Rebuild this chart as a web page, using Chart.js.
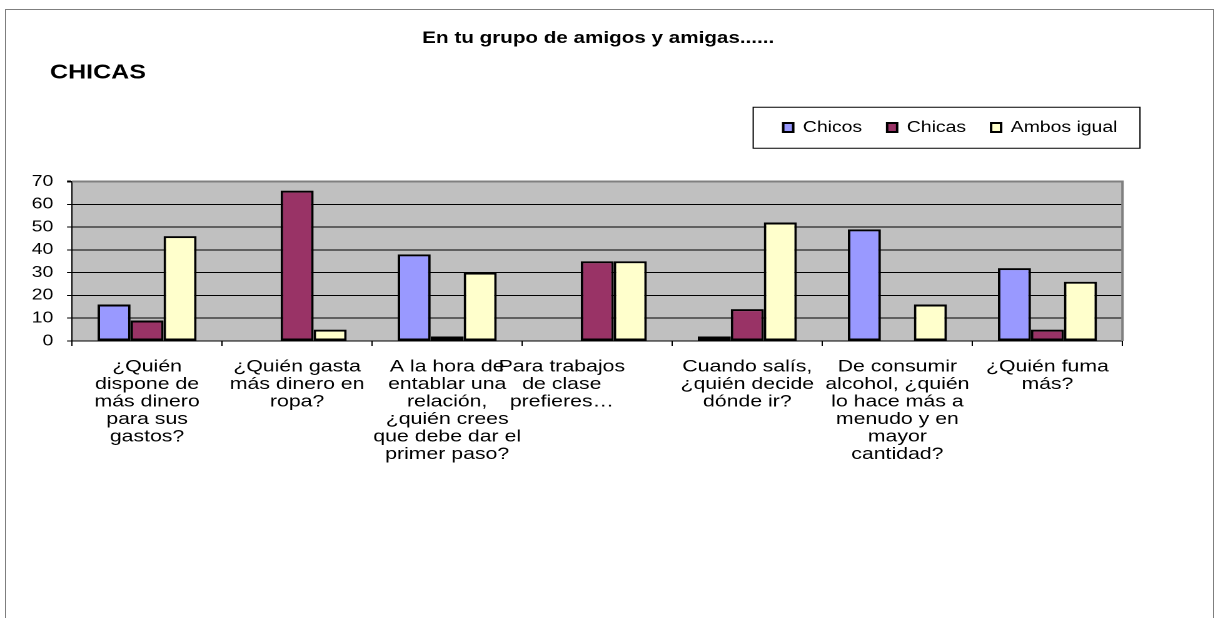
<!DOCTYPE html>
<html>
<head>
<meta charset="utf-8">
<script src="https://cdn.jsdelivr.net/npm/chart.js@4.4.1/dist/chart.umd.min.js"></script>
<style>
    html, body { margin: 0; padding: 0; background: #fff; }
    #frame { position: absolute; left: 5px; top: 9px; width: 1207px; height: 640px; border: 1px solid #7f7f7f; }
    #myChart { position: absolute; left: 0; top: 0; }
</style>
</head>
<body>
<div id="frame"></div>
<!-- drawn narrower and stretched wide, like the original Excel picture -->
<canvas id="myChart" width="974" height="618" style="width:1218px;height:618px"></canvas>
<script>
'use strict';

const titleText = 'En tu grupo de amigos y amigas......';
const subtitleText = 'CHICAS';
const seriesNames = ['Chicos', 'Chicas', 'Ambos igual'];
const categories = [
    ['¿Quién', 'dispone de', 'más dinero', 'para sus', 'gastos?'],
    ['¿Quién gasta', 'más dinero en', 'ropa?'],
    ['A la hora de', 'entablar una', 'relación,', '¿quién crees', 'que debe dar el', 'primer paso?'],
    ['Para trabajos            ', 'de clase            ', 'prefieres…            '],
    ['Cuando salís,', '¿quién decide', 'dónde ir?'],
    ['De consumir', 'alcohol, ¿quién', 'lo hace más a', 'menudo y en', 'mayor', 'cantidad?'],
    ['¿Quién fuma', 'más?']
];
const chicos = [16, 0, 38, 0, 2, 49, 32];
const chicas = [9, 66, 2, 35, 14, 0, 5];
const ambos = [46, 5, 30, 35, 52, 16, 26];
const yMin = 0;
const yMax = 70;
const yStep = 10;

const FONT = "'Liberation Sans', Arial, sans-serif";
Chart.defaults.font.family = FONT;
Chart.defaults.color = '#000';

const excelLook = {
    id: 'excelLook',
    beforeInit(chart) {
        // extra room under the legend row
        const fit = chart.legend.fit;
        chart.legend.fit = function () {
            fit.bind(chart.legend)();
            this.height += 36.25;
        };
    },
    afterLayout(chart) {
        chart.boxes.forEach(b => {
            if (b === chart.legend) {
                b.left += 16; b.right += 16;
            } else if (b.options && b.options.text === titleText) {
                b.left += 20.8; b.right += 20.8;
            } else if (b.options && b.options.text === subtitleText) {
                b.left += 22.4; b.right += 22.4;
            }
        });
    },
    beforeDraw(chart) {
        const {ctx, chartArea: a} = chart;
        ctx.save();
        ctx.fillStyle = '#c0c0c0';
        ctx.fillRect(a.left, a.top, a.width, a.height);
        ctx.restore();
    },
    beforeDatasetsDraw(chart) {
        const {ctx, chartArea: a} = chart;
        ctx.save();
        ctx.strokeStyle = '#808080';
        ctx.lineWidth = 2;
        ctx.beginPath();
        ctx.moveTo(a.left, a.top);
        ctx.lineTo(a.right, a.top);
        ctx.lineTo(a.right, a.bottom);
        ctx.stroke();
        ctx.restore();
    },
    afterDraw(chart) {
        const hb = chart.legend.legendHitBoxes;
        if (!hb || !hb.length) return;
        const first = hb[0], last = hb[hb.length - 1];
        const x0 = first.left - 24;
        const x1 = last.left + last.width + 18;
        const ctx = chart.ctx;
        ctx.save();
        ctx.strokeStyle = '#000';
        ctx.lineWidth = 1;
        ctx.strokeRect(x0, first.top - 12.5, x1 - x0, 41);
        ctx.restore();
    }
};

const data = {
    labels: categories,
    datasets: [
        { label: seriesNames[0], data: chicos, backgroundColor: '#9999ff' },
        { label: seriesNames[1], data: chicas, backgroundColor: '#993366' },
        { label: seriesNames[2], data: ambos, backgroundColor: '#ffffcc' }
    ].map(d => Object.assign(d, {
        borderColor: '#000',
        borderWidth: 2,
        borderSkipped: false,
        categoryPercentage: 0.66,
        barPercentage: 1
    }))
};

const config = {
    type: 'bar',
    data: data,
    plugins: [excelLook],
    options: {
        responsive: false,
        devicePixelRatio: 2,
        animation: false,
        events: [],
        layout: {
            padding: { top: 10, left: 17.6, right: 76.4, bottom: 127 }
        },
        plugins: {
            title: {
                display: true,
                text: titleText,
                color: '#000',
                font: { size: 16.5, weight: 'bold' },
                padding: { top: 18.6, bottom: 0 }
            },
            subtitle: {
                display: true,
                text: subtitleText,
                align: 'start',
                color: '#000',
                font: { size: 20, weight: 'bold' },
                padding: { top: 12.6, bottom: 14.75 }
            },
            legend: {
                position: 'top',
                align: 'end',
                labels: {
                    boxWidth: 8,
                    boxHeight: 9,
                    padding: 20,
                    color: '#000',
                    font: { size: 15.5 }
                }
            },
            tooltip: { enabled: false }
        },
        scales: {
            x: {
                afterFit: s => { s.height = 150; },
                grid: {
                    drawOnChartArea: false,
                    drawTicks: true,
                    tickLength: 5,
                    tickColor: '#000'
                },
                border: { color: '#000', width: 1 },
                ticks: {
                    autoSkip: false,
                    maxRotation: 0,
                    minRotation: 0,
                    padding: 12.25,
                    color: '#000',
                    font: { size: 17, lineHeight: 1.03 }
                }
            },
            y: {
                min: yMin,
                max: yMax,
                afterFit: s => { s.width = 40; },
                grid: {
                    color: c => (c.tick && c.tick.value === yMax) ? '#808080' : '#000',
                    lineWidth: c => (c.tick && c.tick.value === yMax) ? 2 : 1,
                    tickLength: 4,
                    tickColor: '#000'
                },
                border: { color: '#000', width: 1 },
                ticks: {
                    stepSize: yStep,
                    padding: 11,
                    color: '#000',
                    font: { size: 15.5 }
                }
            }
        }
    }
};

let myChart = new Chart(document.getElementById('myChart'), config);
</script>
</body>
</html>
